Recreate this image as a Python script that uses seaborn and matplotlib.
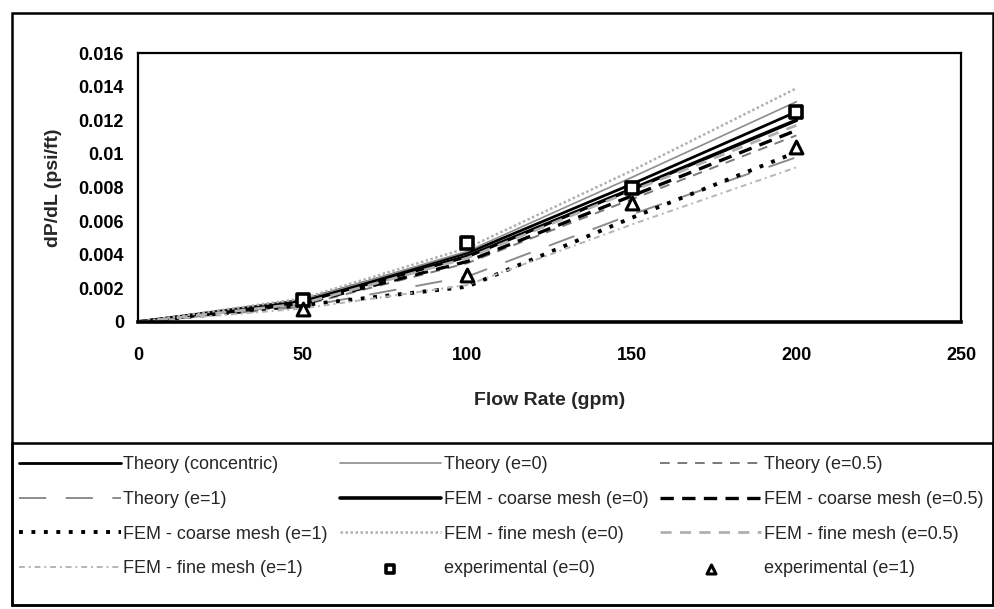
import numpy as np
import pandas as pd
import seaborn as sns
import matplotlib.pyplot as plt
from matplotlib.patches import Rectangle
from matplotlib.ticker import FixedLocator, FuncFormatter

sns.set_theme(style="white")
plt.rcParams['font.family'] = ['Liberation Sans', 'DejaVu Sans']

# Pressure gradient vs flow rate
flow = [0, 50, 100, 150, 200]
theory_conc = [0, 0.0013, 0.0041, 0.0082, 0.0125]
theory_e0 = [0, 0.0013, 0.0042, 0.0086, 0.0131]
theory_e05 = [0, 0.0010, 0.0035, 0.0073, 0.0111]
theory_e1 = [0, 0.0009, 0.0027, 0.0064, 0.0098]
fem_coarse_e0 = [0, 0.0012, 0.0039, 0.0079, 0.0120]
fem_coarse_e05 = [0, 0.0011, 0.0036, 0.0075, 0.0114]
fem_coarse_e1 = [0, 0.0010, 0.0021, 0.0062, 0.0101]
fem_fine_e0 = [0, 0.0014, 0.0044, 0.0090, 0.0139]
fem_fine_e05 = [0, 0.0011, 0.0038, 0.0078, 0.0117]
fem_fine_e1 = [0, 0.0008, 0.0022, 0.0058, 0.0092]

exp_flow = [50, 100, 150, 200]
exp_e0 = [0.0013, 0.0047, 0.0080, 0.0125]
exp_e1 = [0.0008, 0.0028, 0.0071, 0.0104]

x_ticks = [0, 50, 100, 150, 200, 250]
y_ticks = [0, 0.002, 0.004, 0.006, 0.008, 0.010, 0.012, 0.014, 0.016]

fig = plt.figure(figsize=(9.95, 6.09), dpi=100)
fig.patch.set_facecolor('white')
ax = fig.add_axes([138 / 995, 1 - 322 / 609, (961 - 138) / 995, (322 - 53) / 609])
ax.set_facecolor('white')

line_specs = [
    ("Theory (concentric)", theory_conc, "black", 2.0, "-"),
    ("Theory (e=0)", theory_e0, "#8c8c8c", 1.2, "-"),
    ("Theory (e=0.5)", theory_e05, "#7a7a7a", 1.4, (0, (5, 4))),
    ("Theory (e=1)", theory_e1, "#8c8c8c", 1.4, (0, (14, 10))),
    ("FEM - coarse mesh (e=0)", fem_coarse_e0, "black", 2.6, "-"),
    ("FEM - coarse mesh (e=0.5)", fem_coarse_e05, "black", 2.4, (0, (4, 2.5))),
    ("FEM - coarse mesh (e=1)", fem_coarse_e1, "black", 2.8, (0, (1, 2.2))),
    ("FEM - fine mesh (e=0)", fem_fine_e0, "#b0b0b0", 1.8, (0, (1, 1))),
    ("FEM - fine mesh (e=0.5)", fem_fine_e05, "#b0b0b0", 2.0, (0, (4, 3))),
    ("FEM - fine mesh (e=1)", fem_fine_e1, "#b5b5b5", 1.4, (0, (3, 2, 1, 2))),
]

for label, vals, color, lw, ls in line_specs:
    sns.lineplot(x=flow, y=vals, ax=ax, color=color, linewidth=lw,
                 linestyle=ls, label=label)

sns.scatterplot(x=exp_flow, y=exp_e0, ax=ax, marker='s', s=85,
                facecolor='white', edgecolor='black', linewidth=2.6,
                label="experimental (e=0)", zorder=5)
sns.scatterplot(x=exp_flow, y=exp_e1, ax=ax, marker='^', s=85,
                facecolor='white', edgecolor='black', linewidth=2.2,
                label="experimental (e=1)", zorder=5)

ax.set_xlim(0, 250)
ax.set_ylim(0, 0.016)
ax.xaxis.set_major_locator(FixedLocator(x_ticks))
ax.yaxis.set_major_locator(FixedLocator(y_ticks))
ax.yaxis.set_major_formatter(FuncFormatter(lambda v, p: f"{v:g}"))
ax.tick_params(axis='both', direction='out', length=4, width=1,
               color='black', labelsize=13, labelcolor='black')
ax.tick_params(axis='y', pad=6)
ax.tick_params(axis='x', pad=14)
for t in ax.get_xticklabels() + ax.get_yticklabels():
    t.set_fontweight('bold')
for side, sp in ax.spines.items():
    sp.set_visible(True)
    sp.set_color('black')
    sp.set_linewidth(1.6)
ax.spines['bottom'].set_linewidth(2.6)

ax.set_xlabel("Flow Rate (gpm)", fontsize=14, fontweight='bold', labelpad=20)
ax.set_ylabel("dP/dL (psi/ft)", fontsize=14, fontweight='bold', labelpad=12)
ax.grid(False)

handles, labels = ax.get_legend_handles_labels()
if ax.get_legend() is not None:
    ax.get_legend().remove()

# row-wise ordering for a 3-column legend
order = [0, 3, 6, 9, 1, 4, 7, 10, 2, 5, 8, 11]
leg = fig.legend([handles[i] for i in order], [labels[i] for i in order],
                 ncol=3, loc='upper left', mode='expand',
                 bbox_to_anchor=(14 / 995, 1 - 451 / 609, 975 / 995, 0.0001),
                 frameon=False, fontsize=13, handlelength=5.6,
                 handletextpad=0.15, labelspacing=0.98, borderpad=0.3,
                 borderaxespad=0, markerscale=0.7, columnspacing=1.0)

# outer chart frame and legend box
fig.add_artist(Rectangle((12 / 995, 1 - 605 / 609), 981 / 995, 592 / 609,
                         transform=fig.transFigure, fill=False,
                         edgecolor='black', linewidth=1.8))
fig.add_artist(Rectangle((12 / 995, 1 - 605 / 609), 981 / 995, 162 / 609,
                         transform=fig.transFigure, fill=False,
                         edgecolor='black', linewidth=1.8))

fig.savefig("out.png", dpi=100, facecolor='white')
